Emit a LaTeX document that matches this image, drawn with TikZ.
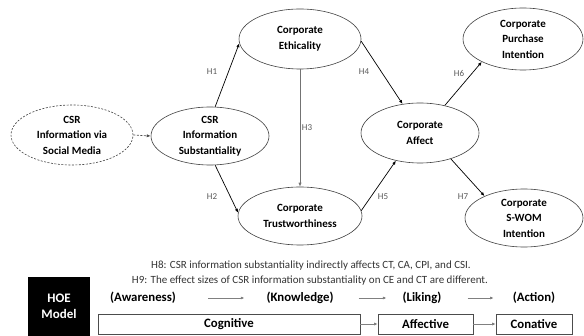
\documentclass[tikz,border=0pt]{standalone}
\usepackage{fontspec}
\setmainfont{Carlito}
\usetikzlibrary{shapes.geometric,arrows.meta}
\begin{document}
\begin{tikzpicture}[x=1pt,y=-1pt,
  ell/.style={ellipse,draw=black!75,line width=0.6pt,inner sep=0pt,align=center,
    font=\bfseries\fontsize{11}{15.5}\selectfont},
  arr/.style={line width=0.7pt,-{Latex[length=4pt,width=3.2pt]}},
  fine/.style={dash pattern=on 2pt off 1.5pt},
  hl/.style={font=\fontsize{9}{10}\selectfont,text=black!65,inner sep=0pt},
  lab/.style={font=\bfseries\fontsize{12.8}{14}\selectfont,inner sep=0pt},
  bx/.style={draw=black!70,line width=0.6pt,minimum height=20pt,inner sep=0pt,
    font=\bfseries\fontsize{12.8}{14}\selectfont},
  garr/.style={draw=black!50,line width=0.7pt,-{Latex[length=3.5pt,width=3pt,fill=black]}}
]
\useasboundingbox (0,0) rectangle (584,336);
% ellipses
\node[ell,fine,minimum width=122pt,minimum height=60pt] (sm) at (72,135) {CSR\\Information via\\Social Media};
\node[ell,minimum width=118pt,minimum height=58pt] (sub) at (210,136) {CSR\\Information\\Substantiality};
\node[ell,minimum width=122pt,minimum height=60pt] (eth) at (300,39) {Corporate\\Ethicality};
\node[ell,minimum width=124pt,minimum height=58pt] (tru) at (300,216) {Corporate\\Trustworthiness};
\node[ell,minimum width=118pt,minimum height=60pt] (aff) at (420,133) {Corporate\\Affect};
\node[ell,minimum width=120pt,minimum height=62pt] (pur) at (523,39) {Corporate\\Purchase\\Intention};
\node[ell,minimum width=118pt,minimum height=58pt] (swom) at (524,218) {Corporate\\S-WOM\\Intention};
% edges
\draw[arr,fine,draw=black!70] (sm.east) -- (sub.west);
\draw[arr] (sub.80) -- (eth.184);
\draw[arr] (sub.280) -- (tru.177);
\draw[arr,draw=black!55] (eth.south) -- (tru.north);
\draw[arr] (eth.358) -- (aff.121);
\draw[arr] (tru.5) -- (aff.229);
\draw[arr] (aff.48) -- (pur.209);
\draw[arr] (aff.320) -- (swom.151);
% hypothesis labels
\node[hl] (h1) at (212,72) {H1};
\node[hl] (h2) at (212,197) {H2};
\node[hl] (h3) at (307,128) {H3};
\node[hl] (h4) at (364,72) {H4};
\node[hl] (h5) at (383,197) {H5};
\node[hl] (h6) at (459,73) {H6};
\node[hl] (h7) at (463,197) {H7};
% notes
\node[font=\fontsize{11}{12}\selectfont,text=black!80,inner sep=0pt] (h8) at (311,266) {H8: CSR information substantiality indirectly affects CT, CA, CPI, and CSI.};
\node[font=\fontsize{11}{12}\selectfont,text=black!80,inner sep=0pt] (h9) at (310,281) {H9: The effect sizes of CSR information substantiality on CE and CT are different.};
% HOE model
\node[fill=black,text=white,minimum width=62pt,minimum height=59pt,inner sep=0pt,align=center,
  font=\bfseries\fontsize{13}{16}\selectfont] (hoe) at (59,306.5) {HOE\\Model};
\node[lab] (aw) at (143,298) {(Awareness)};
\node[lab] (kn) at (300,298) {(Knowledge)};
\node[lab] (li) at (422,298) {(Liking)};
\node[lab] (ac) at (534,298) {(Action)};
\draw[garr,shorten <=32pt,shorten >=22pt] (aw.east) -- (kn.west);
\draw[garr,shorten <=25pt,shorten >=16pt] (kn.east) -- (li.west);
\draw[garr,shorten <=26pt,shorten >=19pt] (li.east) -- (ac.west);
\node[bx,minimum width=262pt] (cog) at (229,324) {Cognitive};
\node[bx,minimum width=95pt] (afc) at (425.5,324) {Affective};
\node[bx,minimum width=76pt] (con) at (534,324) {Conative};
\draw[garr] (cog.east) -- (afc.west);
\draw[garr] (afc.east) -- (con.west);
\end{tikzpicture}
\end{document}
